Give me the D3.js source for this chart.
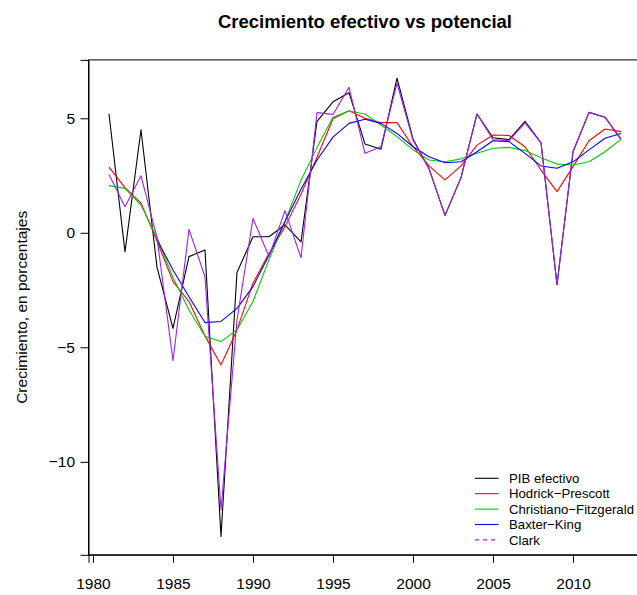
<!DOCTYPE html>
<html>
<head>
<meta charset="utf-8">
<script src="https://cdn.jsdelivr.net/npm/d3@7"></script>
<style>
  body { margin: 0; background: #fff; }
  svg { font-family: "Liberation Sans", Arial, sans-serif; }
</style>
</head>
<body>
<div id="canvas"></div>
<script>
// datos
const years = d3.range(1981, 2014);
const pib = [5.2, -0.83, 4.5, -1.5, -4.17, -1.04, -0.75, -13.26, -1.73, -0.17, -0.17, 0.35, -0.4, 4.87, 5.72, 6.12, 3.88, 3.65, 6.75, 4.1, 2.8, 0.76, 2.42, 5.19, 4.15, 4.07, 4.87, 3.93, -2.27, 3.54, 5.26, 5.05, 4.08];
const hp = [2.87, 1.97, 1.3, -0.35, -2.13, -3.0, -4.5, -5.77, -4.24, -2.2, -0.9, 0.27, 1.68, 3.3, 4.98, 5.33, 5.0, 4.81, 4.81, 3.76, 2.92, 2.31, 2.92, 3.83, 4.27, 4.25, 3.76, 2.74, 1.8, 2.89, 4.02, 4.53, 4.42];
const cf = [2.06, 1.94, 1.21, -0.2, -1.95, -3.37, -4.52, -4.75, -4.24, -3.0, -1.17, 0.5, 2.3, 3.72, 5.05, 5.32, 5.19, 4.71, 4.2, 3.62, 3.18, 3.1, 3.23, 3.47, 3.69, 3.73, 3.59, 3.28, 3.0, 2.96, 3.1, 3.54, 4.08];
const bk = [null, null, null, -0.3, -1.62, -2.79, -3.92, -3.87, -3.3, -2.35, -0.98, 0.49, 1.9, 3.18, 4.18, 4.78, 4.96, 4.78, 4.34, 3.76, 3.32, 3.06, 3.1, 3.54, 4.02, 3.98, 3.47, 2.92, 2.82, 3.1, 3.62, 4.13, 4.34];
const clark = [2.55, 1.14, 2.49, -0.2, -5.58, 0.15, -1.92, -12.1, -3.8, 0.63, -1.04, 0.97, -1.09, 5.25, 5.17, 6.35, 3.47, 3.76, 6.53, 4.05, 2.8, 0.76, 2.4, 5.19, 4.06, 4.03, 4.8, 3.93, -2.27, 3.54, 5.26, 5.05, 4.08];

const seriesNames = ["PIB efectivo", "Hodrick\u2212Prescott", "Christiano\u2212Fitzgerald", "Baxter\u2212King", "Clark"];
const seriesColors = ["#000000", "#FF0000", "#00CD00", "#0000FF", "#A020F0"];
const seriesValues = [pib, hp, cf, bk, clark];
const xTicks = [1980, 1985, 1990, 1995, 2000, 2005, 2010];
const yTicks = [-10, -5, 0, 5];

const width = 637;
const height = 595;
const plot = { left: 88.5, right: 641.5, top: 59.9, bottom: 554.8 };

const svg = d3.select("#canvas").append("svg")
  .attr("width", width)
  .attr("height", height);

// rangos como en R (4% extra)
const xExt = d3.extent(years);
const xPad = (xExt[1] - xExt[0]) * 0.04;
const allVals = seriesValues.flat().filter(v => v != null);
const yExt = d3.extent(allVals);
const yPad = (yExt[1] - yExt[0]) * 0.04;

const x = d3.scaleLinear()
  .domain([xExt[0] - xPad, xExt[1] + xPad])
  .range([plot.left, plot.right]);
const y = d3.scaleLinear()
  .domain([yExt[0] - yPad, yExt[1] + yPad])
  .range([plot.bottom, plot.top]);

svg.append("clipPath").attr("id", "clip")
  .append("rect")
  .attr("x", plot.left).attr("y", plot.top)
  .attr("width", plot.right - plot.left)
  .attr("height", plot.bottom - plot.top);

const line = d3.line()
  .defined(d => d[1] != null)
  .x(d => x(d[0]))
  .y(d => y(d[1]));

const lines = svg.append("g").attr("clip-path", "url(#clip)");
seriesValues.forEach((vals, i) => {
  lines.append("path")
    .datum(years.map((yr, j) => [yr, vals[j]]))
    .attr("d", line)
    .attr("fill", "none")
    .attr("stroke", seriesColors[i])
    .attr("stroke-width", 1.1)
    .attr("stroke-linejoin", "round");
});

// caja
svg.append("rect")
  .attr("x", plot.left).attr("y", plot.top)
  .attr("width", plot.right - plot.left)
  .attr("height", plot.bottom - plot.top)
  .attr("fill", "none")
  .attr("stroke", "#000")
  .attr("stroke-width", 1);

// ejes
const xAxis = svg.append("g")
  .attr("transform", `translate(0,${plot.bottom})`)
  .call(d3.axisBottom(x).tickValues(xTicks).tickFormat(d3.format("d")).tickSizeOuter(0).tickSize(8).tickPadding(15));
const yAxis = svg.append("g")
  .attr("transform", `translate(${plot.left},0)`)
  .call(d3.axisLeft(y).tickValues(yTicks).tickSizeOuter(0).tickSize(8).tickPadding(5.5));

[xAxis, yAxis].forEach(a => {
  a.select(".domain").attr("stroke", "#000");
  a.selectAll(".tick line").attr("stroke", "#000");
  a.selectAll(".tick text")
    .attr("fill", "#000")
    .style("font-size", "15.5px")
    .style("font-family", "'Liberation Sans', Arial, sans-serif");
});

// titulo
svg.append("text")
  .attr("x", (plot.left + plot.right) / 2)
  .attr("y", 28)
  .attr("text-anchor", "middle")
  .style("font-size", "18.5px")
  .style("font-weight", "bold")
  .text("Crecimiento efectivo vs potencial");

svg.append("text")
  .attr("transform", `translate(27,${(plot.top + plot.bottom) / 2}) rotate(-90)`)
  .attr("text-anchor", "middle")
  .style("font-size", "15.5px")
  .text("Crecimiento, en porcentajes");

// leyenda
const legend = svg.append("g");
seriesNames.forEach((name, i) => {
  const ly = 478.3 + i * 15.4;
  legend.append("line")
    .attr("x1", 475).attr("x2", 498.5)
    .attr("y1", ly).attr("y2", ly)
    .attr("stroke", seriesColors[i])
    .attr("stroke-width", 1.1)
    .attr("stroke-dasharray", i === 4 ? "4,4" : null);
  legend.append("text")
    .attr("x", 509)
    .attr("y", ly)
    .attr("dy", "0.36em")
    .style("font-size", "13.2px")
    .text(name);
});
</script>
</body>
</html>
